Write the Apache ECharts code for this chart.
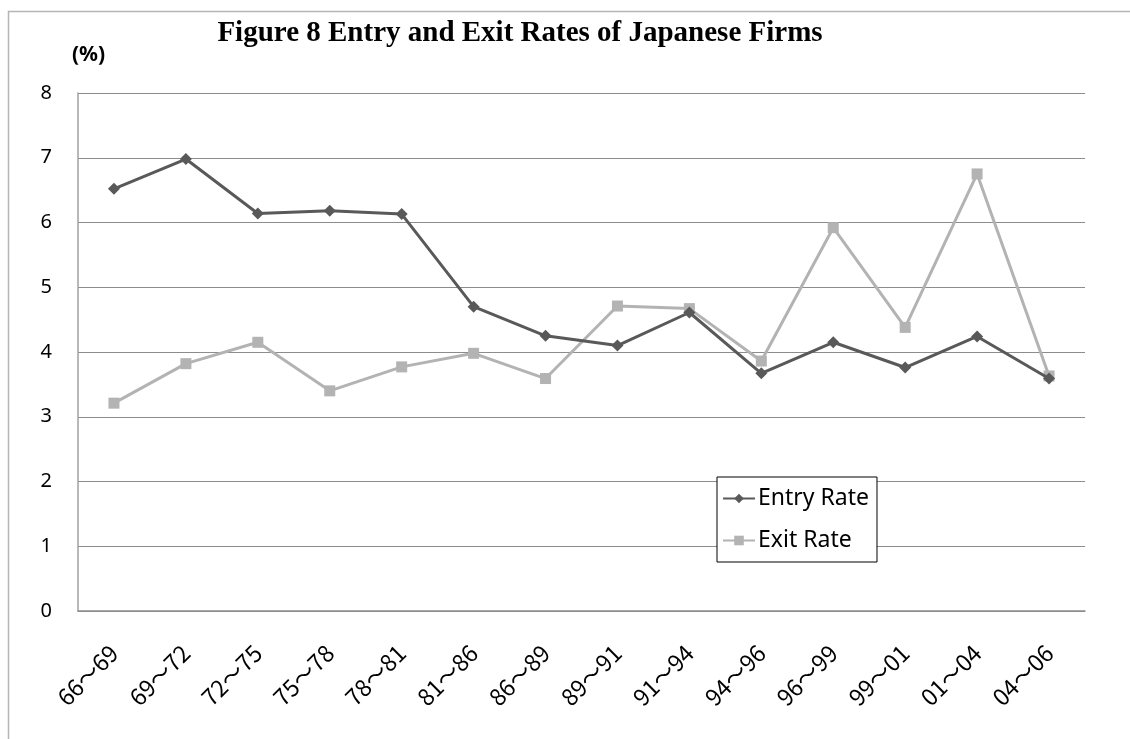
<!DOCTYPE html>
<html><head><meta charset="utf-8">
<script src="https://cdn.jsdelivr.net/npm/echarts@6/dist/echarts.min.js"></script>
<style>html,body{margin:0;padding:0;background:#fff}#c{width:1130px;height:739px}</style>
</head><body><div id="c"></div>
<script>
const categories = ['66～69','69～72','72～75','75～78','78～81','81～86','86～89','89～91','91～94','94～96','96～99','99～01','01～04','04～06'];
const entryRate = [6.52, 6.98, 6.14, 6.18, 6.13, 4.70, 4.25, 4.10, 4.61, 3.67, 4.15, 3.76, 4.24, 3.59];
const exitRate  = [3.21, 3.82, 4.15, 3.40, 3.77, 3.98, 3.59, 4.71, 4.67, 3.86, 5.92, 4.38, 6.75, 3.63];
const yTicks = [0, 8, 1];

const chart = echarts.init(document.getElementById('c'), null, {renderer:'canvas'});
const labelFont = '"Noto Sans", "Open Sans", sans-serif';
chart.setOption({
  animation: false,
  backgroundColor: '#fff',
  title: {
    text: 'Figure 8 Entry and Exit Rates of Japanese Firms',
    left: 515, top: 14, textAlign: 'center',
    textStyle: {fontFamily: '"Liberation Serif", "DejaVu Serif", serif', fontWeight: 'bold', fontSize: 29, color: '#000'}
  },
  graphic: [
    {type: 'rect', left: 6, top: 9, shape: {width: 1300, height: 900}, style: {fill: 'none', stroke: '#b5b5b5', lineWidth: 1.5}, z: -1},
    {type: 'text', left: 72, top: 45, style: {text: '(%)', font: 'bold 21px "Noto Sans", sans-serif', fill: '#000'}}
  ],
  legend: {
    left: 717, top: 477, orient: 'vertical',
    padding: [10, 8, 10, 5],
    itemGap: 19,
    itemWidth: 32, itemHeight: 12,
    borderColor: '#000', borderWidth: 1, backgroundColor: '#fff',
    textStyle: {fontFamily: labelFont, fontSize: 23, color: '#000', padding: [0,0,0,-2]},
    data: ['Entry Rate', 'Exit Rate']
  },
  grid: {left: 78, right: 45, top: 93, bottom: 128, containLabel: false},
  xAxis: {
    type: 'category', data: categories, boundaryGap: true,
    axisLine: {lineStyle: {color: '#8c8c8c', width: 1.5}},
    axisTick: {show: false},
    axisLabel: {rotate: 45, margin: 38, interval: 0, fontFamily: '"Noto Sans CJK JP", "Noto Sans", sans-serif', fontSize: 23, color: '#000'}
  },
  yAxis: {
    type: 'value', min: yTicks[0], max: yTicks[1], interval: yTicks[2],
    axisLine: {show: true, lineStyle: {color: '#a0a0a0', width: 1.5}},
    axisTick: {show: false},
    axisLabel: {margin: 26, fontFamily: labelFont, fontSize: 20, color: '#000'},
    splitLine: {lineStyle: {color: '#8c8c8c', width: 1.2}}
  },
  series: [
    {name: 'Entry Rate', type: 'line', data: entryRate, symbol: 'diamond', symbolSize: 12,
     lineStyle: {color: '#595959', width: 3}, itemStyle: {color: '#595959'}, z: 3},
    {name: 'Exit Rate', type: 'line', data: exitRate, symbol: 'rect', symbolSize: 11,
     lineStyle: {color: '#b3b3b3', width: 3}, itemStyle: {color: '#b3b3b3'}, z: 2}
  ]
});
</script></body></html>
